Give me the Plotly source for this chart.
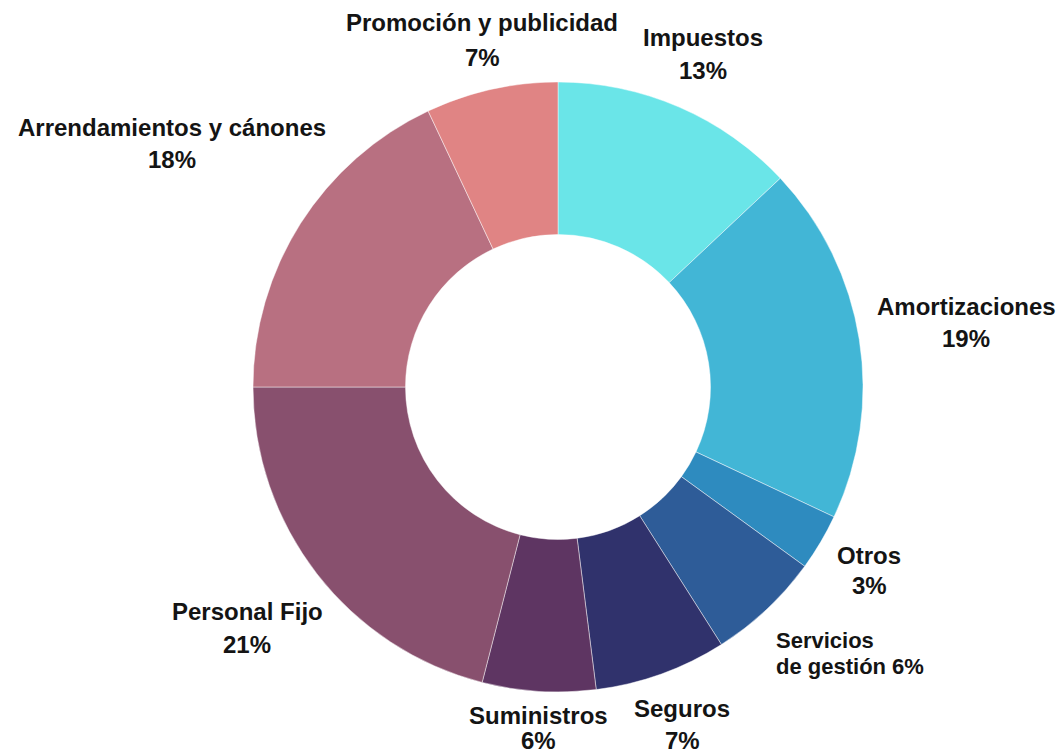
import plotly.graph_objects as go

# Cost breakdown, clockwise from 12 o'clock
categories = [
    "Impuestos",
    "Amortizaciones",
    "Otros",
    "Servicios de gestión",
    "Seguros",
    "Suministros",
    "Personal Fijo",
    "Arrendamientos y cánones",
    "Promoción y publicidad",
]
shares = [13, 19, 3, 6, 7, 6, 21, 18, 7]
colors = [
    "#6ae5e8", "#42b6d6", "#2e8bbf", "#2e5c98", "#30326c",
    "#5e3562", "#88506e", "#b87081", "#e08484",
]

W, H = 1061, 755
cx, cy, R = 558, 387, 305  # donut centre and outer radius in pixels

fig = go.Figure(
    go.Pie(
        labels=categories,
        values=shares,
        sort=False,
        direction="clockwise",
        rotation=0,
        hole=0.5,
        marker=dict(colors=colors, line=dict(color="rgba(255,255,255,0.45)", width=1)),
        textinfo="none",
        hoverinfo="label+percent",
        domain=dict(
            x=[(cx - R) / W, (cx + R) / W],
            y=[(H - cy - R) / H, (H - cy + R) / H],
        ),
        showlegend=False,
    )
)

# Outside labels: x centre, y of name line, y of value line (pixels)
label_pos = {
    "Impuestos": (703, 37, 70),
    "Amortizaciones": (966, 307, 338),
    "Otros": (869, 555, 585),
    "Seguros": (682, 708, 740),
    "Suministros": (538, 715, 740),
    "Personal Fijo": (247, 611, 644),
    "Arrendamientos y cánones": (172, 127, 159),
    "Promoción y publicidad": (482, 23, 58),
}

font = dict(family="Liberation Sans, Arial, sans-serif", size=24, color="#141414")
annotations = []
for name, val in zip(categories, shares):
    if name in label_pos:
        x, y1, y2 = label_pos[name]
        for text, y in ((f"<b>{name}</b>", y1), (f"<b>{val}%</b>", y2)):
            annotations.append(dict(
                x=x / W, y=1 - y / H, xref="paper", yref="paper",
                text=text, showarrow=False, xanchor="center", yanchor="middle",
                font=font,
            ))
    else:
        # two-line label set flush left
        first, rest = name.split(" ", 1)
        for text, y in ((f"<b>{first}</b>", 640), (f"<b>{rest} {val}%</b>", 666)):
            annotations.append(dict(
                x=774 / W, y=1 - y / H, xref="paper", yref="paper",
                text=text, showarrow=False, xanchor="left", yanchor="middle",
                font=dict(font, size=22),
            ))

fig.update_layout(
    width=W, height=H,
    margin=dict(l=0, r=0, t=0, b=0),
    paper_bgcolor="white",
    plot_bgcolor="white",
    annotations=annotations,
)

fig.write_html("out.html")
